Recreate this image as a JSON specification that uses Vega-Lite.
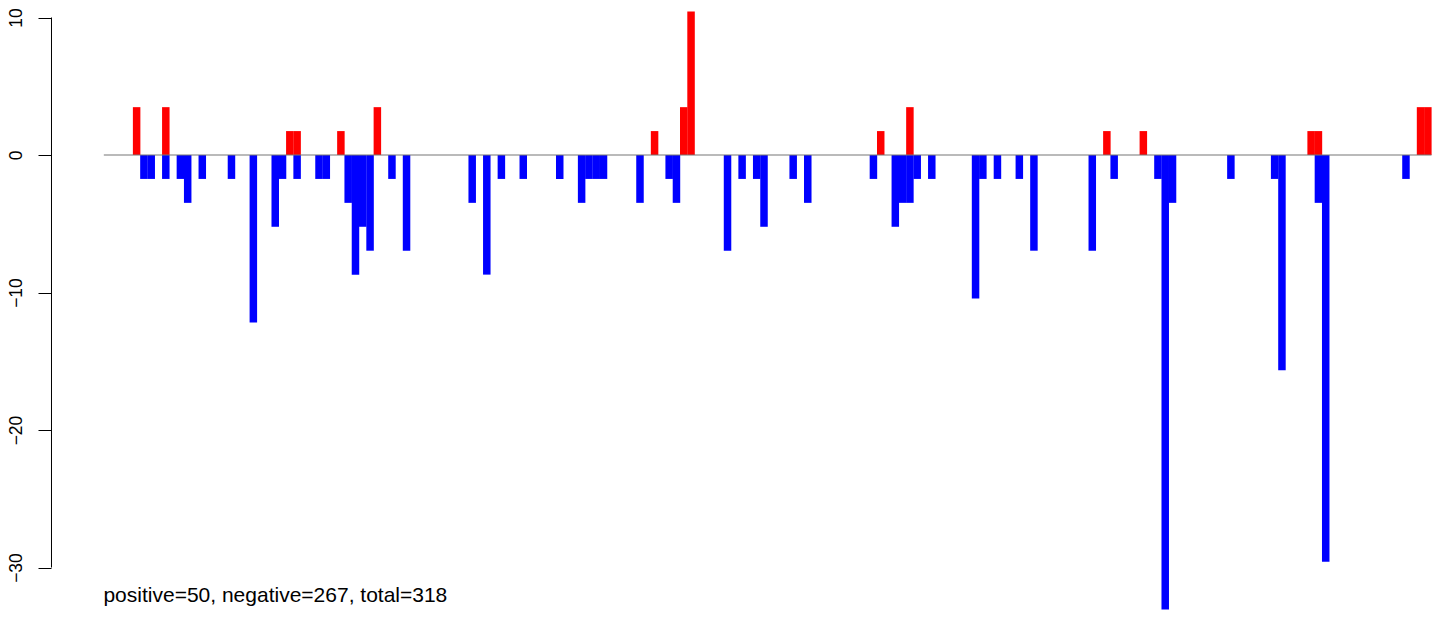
{
  "$schema": "https://vega.github.io/schema/vega-lite/v6.json",
  "width": 1401,
  "height": 620,
  "autosize": {"type": "none"},
  "padding": {"left": 51, "top": 0, "right": 0, "bottom": 0},
  "background": "white",
  "config": {"view": {"stroke": null}},
  "datasets": {
    "bars": [
      {"i":4,"v":3.48},{"i":5,"v":-1.74},{"i":6,"v":-1.74},{"i":8,"v":3.48},{"i":8,"v":-1.74},
      {"i":10,"v":-1.74},{"i":11,"v":-3.48},{"i":13,"v":-1.74},{"i":17,"v":-1.74},{"i":20,"v":-12.18},
      {"i":23,"v":-5.22},{"i":24,"v":-1.74},{"i":25,"v":1.74},{"i":26,"v":1.74},{"i":26,"v":-1.74},
      {"i":29,"v":-1.74},{"i":30,"v":-1.74},{"i":32,"v":1.74},{"i":33,"v":-3.48},{"i":34,"v":-8.7},
      {"i":35,"v":-5.22},{"i":36,"v":-6.96},{"i":37,"v":3.48},{"i":39,"v":-1.74},{"i":41,"v":-6.96},
      {"i":50,"v":-3.48},{"i":52,"v":-8.7},{"i":54,"v":-1.74},{"i":57,"v":-1.74},{"i":62,"v":-1.74},
      {"i":65,"v":-3.48},{"i":66,"v":-1.74},{"i":67,"v":-1.74},{"i":68,"v":-1.74},{"i":73,"v":-3.48},
      {"i":75,"v":1.74},{"i":77,"v":-1.74},{"i":78,"v":-3.48},{"i":79,"v":3.48},{"i":80,"v":10.44},
      {"i":85,"v":-6.96},{"i":87,"v":-1.74},{"i":89,"v":-1.74},{"i":90,"v":-5.22},{"i":94,"v":-1.74},
      {"i":96,"v":-3.48},{"i":105,"v":-1.74},{"i":106,"v":1.74},{"i":108,"v":-5.22},{"i":109,"v":-3.48},
      {"i":110,"v":3.48},{"i":110,"v":-3.48},{"i":111,"v":-1.74},{"i":113,"v":-1.74},{"i":119,"v":-10.44},
      {"i":120,"v":-1.74},{"i":122,"v":-1.74},{"i":125,"v":-1.74},{"i":127,"v":-6.96},{"i":135,"v":-6.96},
      {"i":137,"v":1.74},{"i":138,"v":-1.74},{"i":142,"v":1.74},{"i":144,"v":-1.74},{"i":145,"v":-33.06},
      {"i":146,"v":-3.48},{"i":154,"v":-1.74},{"i":160,"v":-1.74},{"i":161,"v":-15.66},{"i":165,"v":1.74},
      {"i":166,"v":1.74},{"i":166,"v":-3.48},{"i":167,"v":-29.58},{"i":178,"v":-1.74},{"i":180,"v":3.48},
      {"i":181,"v":3.48}
    ]
  },
  "layer": [
    {
      "data": {"name": "bars"},
      "mark": {"type": "bar", "width": 7.5, "orient": "vertical"},
      "encoding": {
        "x": {"field": "i", "type": "quantitative", "scale": {"domain": [-7.738, 184.31], "nice": false, "zero": false, "padding": 0}, "axis": null},
        "y": {
          "field": "v", "type": "quantitative",
          "scale": {"domain": [-33.818, 11.273], "nice": false, "zero": false, "padding": 0},
          "axis": {
            "values": [-30, -20, -10, 0, 10],
            "domain": false, "grid": false, "ticks": true,
            "tickSize": 13, "tickColor": "black", "tickWidth": 1,
            "labelAngle": -90, "labelAlign": "center", "labelBaseline": "alphabetic",
            "labelPadding": 17, "labelFont": "Liberation Sans", "labelFontSize": 17.5,
            "labelColor": "black", "title": null, "labelFlush": false, "labelOverlap": false
          }
        },
        "y2": {"datum": 0},
        "color": {"condition": {"test": "datum.v > 0", "value": "#ff0000"}, "value": "#0000ff"}
      }
    },
    {
      "data": {"values": [{}]},
      "mark": {"type": "rule", "color": "#777777", "strokeWidth": 1.2},
      "encoding": {
        "x": {"datum": -0.5, "type": "quantitative", "scale": {"domain": [-7.738, 184.31], "nice": false, "zero": false, "padding": 0}, "axis": null},
        "x2": {"datum": 181.5},
        "y": {
          "datum": 0, "type": "quantitative",
          "scale": {"domain": [-33.818, 11.273], "nice": false, "zero": false, "padding": 0},
          "axis": {
            "values": [-30, -20, -10, 0, 10],
            "domain": false, "grid": false, "ticks": true,
            "tickSize": 13, "tickColor": "black", "tickWidth": 1,
            "labelAngle": -90, "labelAlign": "center", "labelBaseline": "alphabetic",
            "labelPadding": 17, "labelFont": "Liberation Sans", "labelFontSize": 17.5,
            "labelColor": "black", "title": null, "labelFlush": false, "labelOverlap": false
          }
        }
      }
    },
    {
      "data": {"values": [{}]},
      "mark": {"type": "rule", "color": "black", "strokeWidth": 1},
      "encoding": {
        "x": {"datum": -7.67, "type": "quantitative", "scale": {"domain": [-7.738, 184.31], "nice": false, "zero": false, "padding": 0}, "axis": null},
        "y": {
          "datum": -30, "type": "quantitative",
          "scale": {"domain": [-33.818, 11.273], "nice": false, "zero": false, "padding": 0},
          "axis": {
            "values": [-30, -20, -10, 0, 10],
            "domain": false, "grid": false, "ticks": true,
            "tickSize": 13, "tickColor": "black", "tickWidth": 1,
            "labelAngle": -90, "labelAlign": "center", "labelBaseline": "alphabetic",
            "labelPadding": 17, "labelFont": "Liberation Sans", "labelFontSize": 17.5,
            "labelColor": "black", "title": null, "labelFlush": false, "labelOverlap": false
          }
        },
        "y2": {"datum": 10}
      }
    },
    {
      "data": {"values": [{"label": "positive=50, negative=267, total=318"}]},
      "mark": {"type": "text", "align": "left", "baseline": "alphabetic", "font": "Liberation Sans", "fontSize": 21, "color": "black"},
      "encoding": {
        "x": {"datum": -0.55, "type": "quantitative", "scale": {"domain": [-7.738, 184.31], "nice": false, "zero": false, "padding": 0}, "axis": null},
        "y": {
          "datum": -32.51, "type": "quantitative",
          "scale": {"domain": [-33.818, 11.273], "nice": false, "zero": false, "padding": 0},
          "axis": {
            "values": [-30, -20, -10, 0, 10],
            "domain": false, "grid": false, "ticks": true,
            "tickSize": 13, "tickColor": "black", "tickWidth": 1,
            "labelAngle": -90, "labelAlign": "center", "labelBaseline": "alphabetic",
            "labelPadding": 17, "labelFont": "Liberation Sans", "labelFontSize": 17.5,
            "labelColor": "black", "title": null, "labelFlush": false, "labelOverlap": false
          }
        },
        "text": {"field": "label"}
      }
    }
  ]
}
